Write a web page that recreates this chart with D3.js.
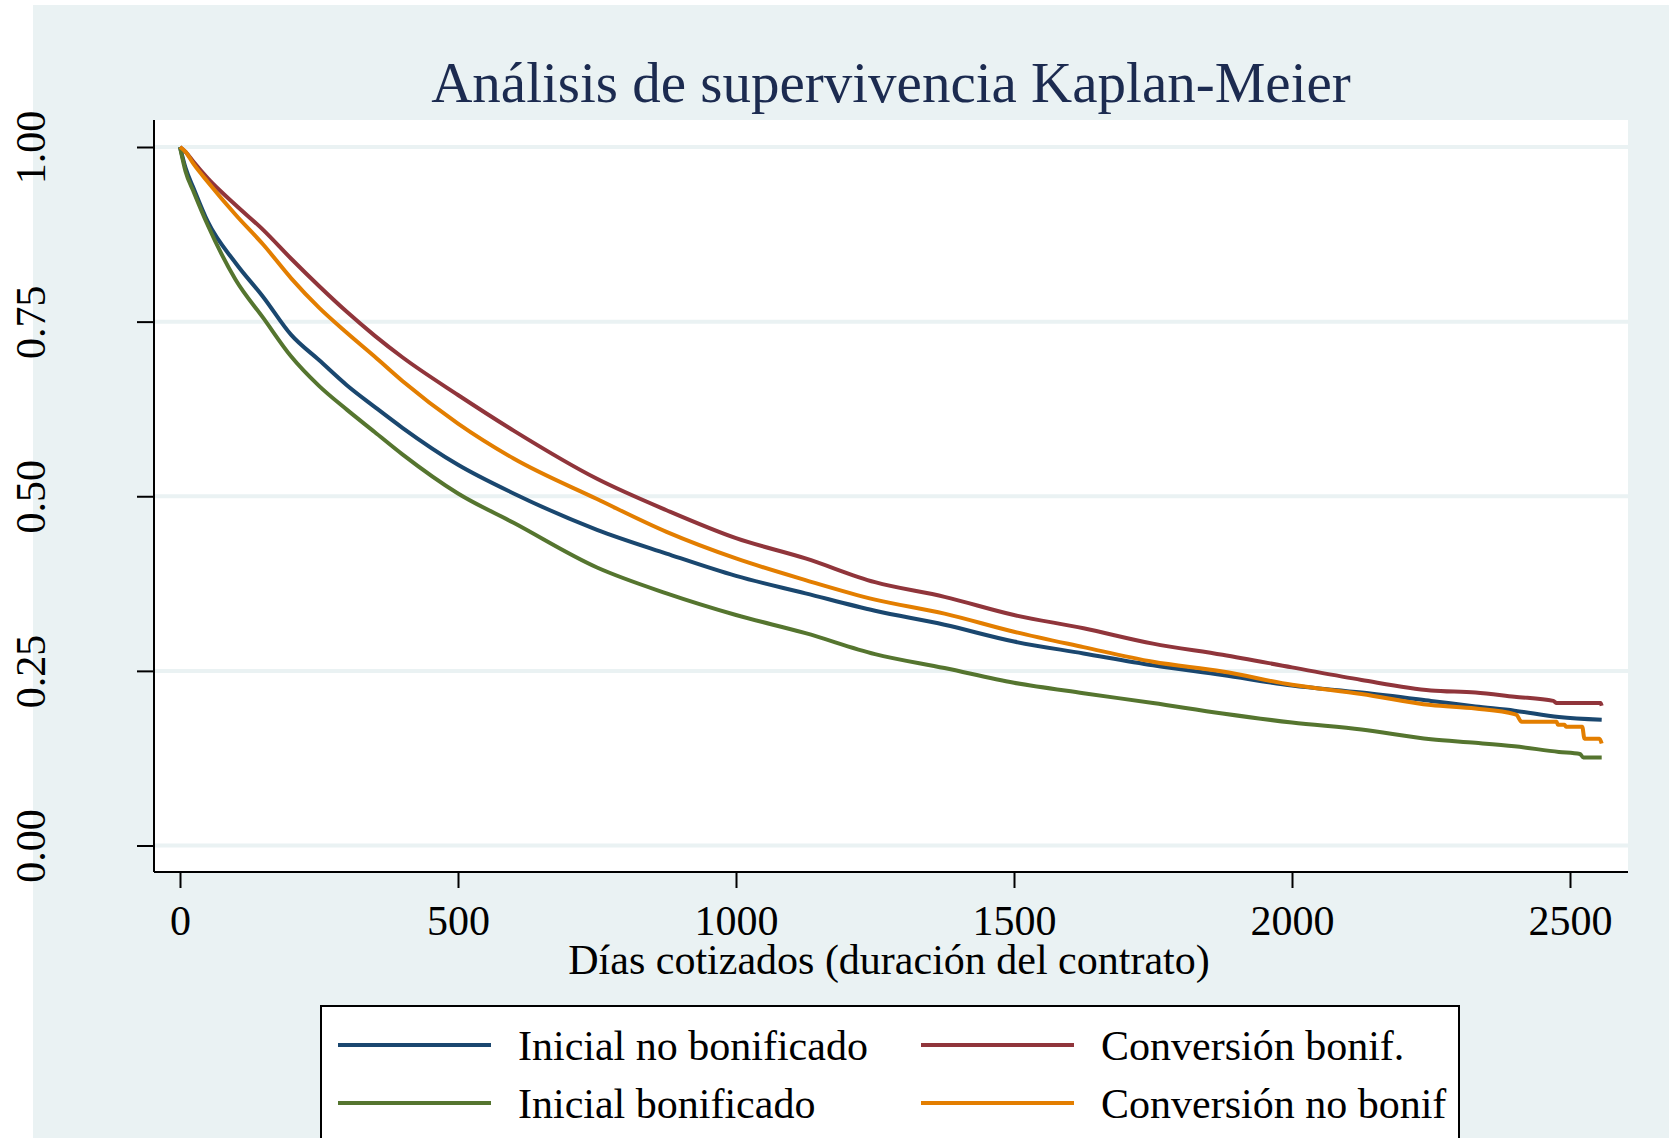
<!DOCTYPE html>
<html>
<head>
<meta charset="utf-8">
<script src="https://cdn.jsdelivr.net/npm/d3@7"></script>
<style>
  body { margin: 0; background: #fff; }
  text { font-family: "Liberation Serif", "Times New Roman", serif; }
</style>
</head>
<body>
<div id="output"></div>
<script>
// series names in Stata order (legend is row-major, 2 columns)
var seriesNames = ["Inicial no bonificado", "Conversión bonif.", "Inicial bonificado", "Conversión no bonif"];
var seriesColors = ["#1a476f", "#90353b", "#55752f", "#e37e00"];

var yTicks = [0, 0.25, 0.5, 0.75, 1];
var yTickLabels = ["0.00", "0.25", "0.50", "0.75", "1.00"];
var xTicks = [0, 500, 1000, 1500, 2000, 2500];

// shared time grid (days)
var days = [0, 10, 25, 50, 100, 150, 200, 250, 300, 350, 400, 500, 600, 750, 875,
  1000, 1125, 1250, 1375, 1500, 1625, 1750, 1875, 2000, 2125, 2250, 2330, 2400];

var inicialNoBonif = [1, 0.97, 0.94, 0.893, 0.834, 0.785, 0.731, 0.695, 0.659, 0.628, 0.598, 0.545, 0.504, 0.452, 0.418,
  0.386, 0.361, 0.336, 0.316, 0.292, 0.275, 0.258, 0.244, 0.229, 0.219, 0.207, 0.199, 0.193];
var conversionBonif = [1, 0.993, 0.978, 0.955, 0.917, 0.881, 0.840, 0.801, 0.764, 0.730, 0.699, 0.645, 0.594, 0.525, 0.480,
  0.440, 0.411, 0.377, 0.356, 0.330, 0.311, 0.289, 0.273, 0.255, 0.237, 0.222, 0.219, 0.213];
var inicialBonif = [1, 0.965, 0.935, 0.888, 0.810, 0.755, 0.700, 0.658, 0.624, 0.592, 0.560, 0.504, 0.462, 0.398, 0.361,
  0.330, 0.304, 0.274, 0.254, 0.233, 0.218, 0.204, 0.189, 0.176, 0.166, 0.152, 0.147, 0.142];
var conversionNoBonif = [1, 0.993, 0.975, 0.950, 0.903, 0.860, 0.812, 0.770, 0.734, 0.700, 0.665, 0.604, 0.554, 0.496, 0.449,
  0.411, 0.380, 0.352, 0.332, 0.306, 0.284, 0.263, 0.249, 0.230, 0.217, 0.201, 0.196, 0.188];

// tails, where the steps get visible
var tailDaysInicialNoBonif = [2480, 2557];
var tailInicialNoBonif = [0.184, 0.180];
var tailDaysConversionBonif = [2470, 2476, 2555, 2557];
var tailConversionBonif = [0.207, 0.204, 0.204, 0.200];
var tailDaysInicialBonif = [2480, 2518, 2524, 2557];
var tailInicialBonif = [0.134, 0.131, 0.126, 0.126];
var tailDaysConversionNoBonif = [2404, 2413, 2476, 2478, 2490, 2493, 2522, 2526, 2553, 2557];
var tailConversionNoBonif = [0.187, 0.177, 0.177, 0.173, 0.173, 0.170, 0.170, 0.153, 0.153, 0.146];

function toPoints(t, v, tt, tv) {
  var pts = t.map(function(d, i) { return [d, v[i]]; });
  return pts.concat(tt.map(function(d, i) { return [d, tv[i]]; }));
}

var series = [
  toPoints(days, inicialNoBonif, tailDaysInicialNoBonif, tailInicialNoBonif),
  toPoints(days, conversionBonif, tailDaysConversionBonif, tailConversionBonif),
  toPoints(days, inicialBonif, tailDaysInicialBonif, tailInicialBonif),
  toPoints(days, conversionNoBonif, tailDaysConversionNoBonif, tailConversionNoBonif)
];

var W = 1669, H = 1138;
var plot = { left: 154, right: 1628, top: 120, bottom: 872 };
var bg = "#eaf2f3";

var svg = d3.select("#output").append("svg")
  .attr("width", W)
  .attr("height", H);

svg.append("rect").attr("x", 33).attr("y", 5).attr("width", W - 33).attr("height", H - 5).attr("fill", bg);
svg.append("rect")
  .attr("x", plot.left).attr("y", plot.top)
  .attr("width", plot.right - plot.left).attr("height", plot.bottom - plot.top)
  .attr("fill", "#fff");

var x = d3.scaleLinear().domain([0, 2500]).range([180, 1570]);
var y = d3.scaleLinear().domain([0, 1]).range([845.5, 147]);

// gridlines
svg.append("g").selectAll("line")
  .data(yTicks)
  .enter().append("line")
  .attr("x1", plot.left).attr("x2", plot.right)
  .attr("y1", function(d) { return y(d); })
  .attr("y2", function(d) { return y(d); })
  .attr("stroke", bg)
  .attr("stroke-width", 4);

// axes
var yAxis = d3.axisLeft(y).tickValues(yTicks).tickSize(17).tickFormat("");
var gy = svg.append("g").attr("transform", "translate(" + plot.left + ",0)").call(yAxis);
gy.select(".domain").attr("d", "M0," + plot.top + "V" + plot.bottom);
gy.selectAll("path, line").attr("stroke", "#000").attr("stroke-width", 2);

gy.selectAll(".tick").append("text")
  .attr("transform", "translate(" + (45 - plot.left) + ",0) rotate(-90)")
  .attr("text-anchor", "middle")
  .attr("fill", "#000")
  .style("font-size", "42px")
  .text(function(d) { return yTickLabels[yTicks.indexOf(d)]; });

var xAxis = d3.axisBottom(x).tickValues(xTicks).tickSize(16).tickFormat("");
var gx = svg.append("g").attr("transform", "translate(0," + plot.bottom + ")").call(xAxis);
gx.select(".domain").attr("d", "M" + plot.left + ",0H" + plot.right);
gx.selectAll("path, line").attr("stroke", "#000").attr("stroke-width", 2);

gx.selectAll(".tick").append("text")
  .attr("y", 935 - plot.bottom)
  .attr("text-anchor", "middle")
  .attr("fill", "#000")
  .style("font-size", "42px")
  .text(function(d) { return d; });

// curves
var line = d3.line()
  .curve(d3.curveMonotoneX)
  .x(function(d) { return x(d[0]); })
  .y(function(d) { return y(d[1]); });

svg.append("g").selectAll("path")
  .data(series)
  .enter().append("path")
  .attr("d", line)
  .attr("fill", "none")
  .attr("stroke", function(d, i) { return seriesColors[i]; })
  .attr("stroke-width", 4)
  .attr("stroke-linejoin", "round");

// titles
svg.append("text")
  .attr("x", 891).attr("y", 102)
  .attr("text-anchor", "middle")
  .attr("fill", "#1c2b50")
  .style("font-size", "57px")
  .text("Análisis de supervivencia Kaplan-Meier");

svg.append("text")
  .attr("x", 889).attr("y", 974)
  .attr("text-anchor", "middle")
  .attr("fill", "#000")
  .style("font-size", "42px")
  .text("Días cotizados (duración del contrato)");

// legend
var legend = svg.append("g");
legend.append("rect")
  .attr("x", 321).attr("y", 1006)
  .attr("width", 1459 - 321).attr("height", 200)
  .attr("fill", "#fff")
  .attr("stroke", "#000")
  .attr("stroke-width", 2);

var colX = [338, 921], rowY = [1045, 1103];
var item = legend.selectAll("g.item")
  .data(seriesNames)
  .enter().append("g")
  .attr("class", "item")
  .attr("transform", function(d, i) {
    return "translate(" + colX[i % 2] + "," + rowY[Math.floor(i / 2)] + ")";
  });

item.append("line")
  .attr("x1", 0).attr("x2", 153)
  .attr("stroke", function(d, i) { return seriesColors[i]; })
  .attr("stroke-width", 4);

item.append("text")
  .attr("x", 180).attr("y", 15)
  .attr("fill", "#000")
  .style("font-size", "42px")
  .text(function(d) { return d; });
</script>
</body>
</html>
